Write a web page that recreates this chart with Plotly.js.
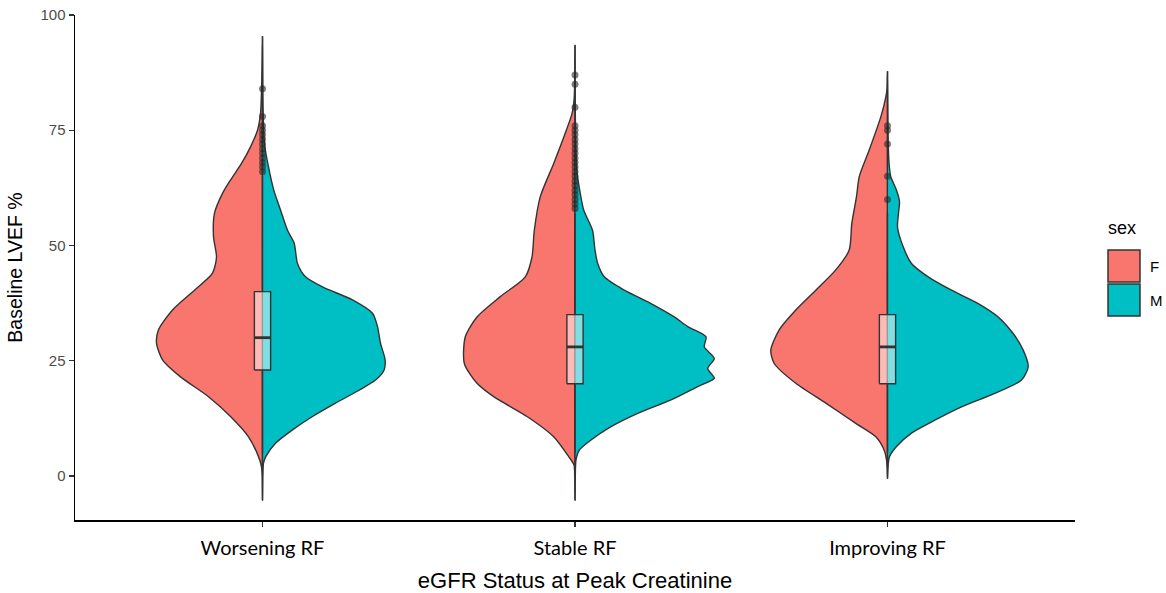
<!DOCTYPE html>
<html><head><meta charset="utf-8">
<script src="https://cdn.plot.ly/plotly-3.0.1.min.js"></script>
<style>html,body{margin:0;padding:0;background:#fff}#chart{width:1166px;height:593px}</style>
</head><body><div id="chart"></div>
<script>
// ---- data ----
const categories = ['Worsening RF', 'Stable RF', 'Improving RF'];
const sexLevels = ['F', 'M'];

// density profiles (LVEF level, relative density) for each group / sex
const worseF_y = [-5.2, 0, 2.0, 4.2, 8.5, 12.9, 17.2, 21.5, 25.2, 28.8, 31.7, 36.0, 40.3, 44.0, 47.5, 51.9, 57.0, 61.3, 64.2, 67.8, 71.4, 75.0, 78.6, 85, 95.3];
const worseF_d = [0, 0.3, 1, 4, 14, 32, 54, 82, 100, 106, 104, 90, 68, 50, 46, 49, 48, 40, 32, 21, 12, 5, 2, 0.8, 0];
const worseM_y = [-5.2, 0, 2.8, 4.2, 7.1, 10.0, 12.9, 15.8, 18.6, 20.8, 23.0, 25.2, 28.8, 32.4, 35.3, 38.2, 41.0, 43.2, 46.1, 50.5, 53.3, 57.7, 62.0, 67.8, 72, 80, 95.3];
const worseM_d = [0, 0.3, 1, 3.3, 13, 30, 50, 73, 96.6, 113, 121.6, 122.6, 118, 115, 110, 90, 60, 43, 35, 31.7, 25, 18, 11.3, 5.3, 2, 0.5, 0];

const stableF_y = [-5.2, 0, 2.4, 4.2, 8.5, 12.9, 17.2, 20.1, 24.4, 30.2, 34.5, 38.9, 43.2, 47.5, 53.3, 60.6, 67.8, 75.0, 78.6, 82, 93.4];
const stableF_d = [0, 0.3, 1, 6.3, 21.3, 48, 81.3, 98, 110.7, 109.7, 98, 74.7, 49.7, 43, 40.7, 34.7, 21.3, 8.7, 3, 0.8, 0];
const stableM_y = [-5.2, 0, 3.5, 5.6, 7.8, 10.7, 13.6, 16.5, 19.4, 21.2, 23.3, 25.5, 28.0, 30.2, 32.4, 34.5, 37.4, 40.3, 43.2, 46.1, 49.0, 53.3, 57.7, 62.0, 66, 75, 93.4];
const stableM_d = [0, 0.3, 1, 4.3, 16, 36, 62.7, 96, 122.7, 139.3, 132.7, 139.3, 129.3, 131, 112.7, 99.3, 76, 49.3, 29.3, 22.7, 20, 17.5, 8.7, 4.7, 2, 0.5, 0];

const improvF_y = [-0.5, 1.5, 3.5, 5.6, 8.5, 11.4, 15.8, 20.1, 24.4, 27.3, 31.7, 36.0, 40.3, 44.7, 49.0, 54.8, 60.6, 64.9, 70.7, 77.9, 82.2, 84, 87.7];
const improvF_d = [0, 0.3, 1, 3.3, 11.7, 31.7, 61.7, 91.7, 113.3, 116.7, 108.3, 91.7, 71.7, 51.7, 38.3, 35.7, 31, 28.3, 18.3, 6.7, 1.7, 0.5, 0];
const improvM_y = [-0.5, 1, 2.8, 4.2, 6.4, 9.3, 12.1, 15.0, 17.9, 20.8, 23.7, 27.3, 30.9, 34.5, 37.4, 40.3, 43.2, 46.1, 49.7, 54, 57, 59.5, 62, 64.9, 68, 75, 87.7];
const improvM_d = [0, 0.3, 0.8, 2, 9, 24, 47.3, 74, 107.3, 134, 140.7, 135.7, 125.7, 110.7, 90.7, 64, 40.7, 24, 15.7, 10, 11, 12, 9, 3.3, 1.5, 0.5, 0];

// box plot statistics per category
const boxQ1 = [23, 20, 20];
const boxMedian = [30, 28, 28];
const boxQ3 = [40, 35, 35];
const boxLowerWhisker = [5, 5, 5];
const boxUpperWhisker = [65, 57, 57];

// outliers per category
const worseOutliers = [84, 78, 76, 75, 74, 73, 72, 71, 70, 69, 68, 67, 66];
const stableOutliers = [87, 85, 80, 76, 75, 74, 73, 72, 71, 70, 69, 68, 67, 66, 65, 64, 63, 62, 61, 60, 59, 58];
const improvOutliers = [76, 75, 72, 65, 60];

// ---- styling ----
const fillColors = {F: '#F8766D', M: '#00BFC4'};
const outlineColor = '#333333';
const DENS_SCALE = 1 / 312.5;   // density -> category-axis width
const BOX_WIDTH = 0.052;

const profiles = [
  {F: [worseF_y, worseF_d], M: [worseM_y, worseM_d]},
  {F: [stableF_y, stableF_d], M: [stableM_y, stableM_d]},
  {F: [improvF_y, improvF_d], M: [improvM_y, improvM_d]}
];
const outliers = [worseOutliers, stableOutliers, improvOutliers];

const traces = [];
// split violins
profiles.forEach((p, ci) => {
  sexLevels.forEach(s => {
    const side = s === 'F' ? -1 : 1;
    const [ys, ds] = p[s];
    const xs = ds.map(d => ci + side * d * DENS_SCALE);
    const yy = ys.slice();
    xs.push(ci); yy.push(ys[0]);
    traces.push({
      type: 'scatter', mode: 'lines', x: xs, y: yy, name: s,
      fill: 'toself', fillcolor: fillColors[s],
      line: {color: outlineColor, width: 1.4, shape: 'spline', smoothing: 0.7},
      hoverinfo: 'skip', showlegend: false
    });
  });
});

// box plots (drawn above the violins)
categories.forEach((cat, ci) => {
  const h = BOX_WIDTH / 2;
  traces.push({
    type: 'scatter', mode: 'lines',
    x: [ci, ci, null, ci, ci],
    y: [boxLowerWhisker[ci], boxQ1[ci], null, boxQ3[ci], boxUpperWhisker[ci]],
    line: {color: outlineColor, width: 1.4}, hoverinfo: 'skip', showlegend: false
  });
  traces.push({
    type: 'scatter', mode: 'lines',
    x: [ci - h, ci + h, ci + h, ci - h, ci - h],
    y: [boxQ1[ci], boxQ1[ci], boxQ3[ci], boxQ3[ci], boxQ1[ci]],
    fill: 'toself', fillcolor: 'rgba(255,255,255,0.5)',
    line: {color: outlineColor, width: 1.4}, hoverinfo: 'skip', showlegend: false
  });
  traces.push({
    type: 'scatter', mode: 'lines',
    x: [ci - h, ci + h], y: [boxMedian[ci], boxMedian[ci]],
    line: {color: outlineColor, width: 2.8}, hoverinfo: 'skip', showlegend: false
  });
});

// outliers
outliers.forEach((vals, ci) => {
  traces.push({
    type: 'scatter', mode: 'markers',
    x: vals.map(() => ci), y: vals,
    marker: {color: 'rgba(40,40,40,0.6)', size: 7},
    hoverinfo: 'skip', showlegend: false
  });
});

const PW = 1000, PH = 505, ML = 75, MT = 15;
const px = v => (v - ML) / PW;
const py = v => (MT + PH - v) / PH;

const layout = {
  width: 1166, height: 593,
  margin: {l: ML, r: 1166 - ML - PW, t: MT, b: 593 - MT - PH},
  paper_bgcolor: '#ffffff', plot_bgcolor: '#ffffff',
  showlegend: false,
  xaxis: {
    range: [-0.6, 2.6], tickvals: [0, 1, 2], ticktext: categories,
    showgrid: false, zeroline: false, showline: true, linecolor: '#000', linewidth: 1.5,
    ticks: 'outside', ticklen: 5, tickcolor: '#333', tickwidth: 1.1, ticklabelstandoff: 4,
    tickfont: {family: 'Lato, Carlito, sans-serif', size: 20, color: '#000'},
    title: {text: 'eGFR Status at Peak Creatinine', standoff: 16,
            font: {family: 'Liberation Sans, Arial, sans-serif', size: 22, color: '#000'}}
  },
  yaxis: {
    range: [-9.55, 100], tickvals: [0, 25, 50, 75, 100],
    showgrid: false, zeroline: false, showline: true, linecolor: '#000', linewidth: 1.5,
    ticks: 'outside', ticklen: 5, tickcolor: '#333', tickwidth: 1.1,
    tickfont: {family: 'Liberation Sans, Arial, sans-serif', size: 15, color: '#4D4D4D'},
    title: {text: 'Baseline LVEF %', standoff: 12,
            font: {family: 'Liberation Sans, Arial, sans-serif', size: 19.5, color: '#000'}}
  },
  shapes: [
    {type: 'rect', xref: 'paper', yref: 'paper', x0: px(1108), x1: px(1140), y0: py(282), y1: py(250),
     fillcolor: fillColors.F, line: {color: outlineColor, width: 1.5}},
    {type: 'rect', xref: 'paper', yref: 'paper', x0: px(1108), x1: px(1140), y0: py(316), y1: py(284),
     fillcolor: fillColors.M, line: {color: outlineColor, width: 1.5}}
  ],
  annotations: [
    {text: 'sex', xref: 'paper', yref: 'paper', x: px(1106), y: py(228), xanchor: 'left', yanchor: 'middle',
     showarrow: false, font: {family: 'Liberation Sans, Arial, sans-serif', size: 18, color: '#000'}},
    {text: sexLevels[0], xref: 'paper', yref: 'paper', x: px(1148), y: py(266), xanchor: 'left', yanchor: 'middle',
     showarrow: false, font: {family: 'Liberation Sans, Arial, sans-serif', size: 15, color: '#000'}},
    {text: sexLevels[1], xref: 'paper', yref: 'paper', x: px(1148), y: py(300), xanchor: 'left', yanchor: 'middle',
     showarrow: false, font: {family: 'Liberation Sans, Arial, sans-serif', size: 15, color: '#000'}}
  ]
};

Plotly.newPlot('chart', traces, layout, {displayModeBar: false, staticPlot: true});
</script>
</body></html>
